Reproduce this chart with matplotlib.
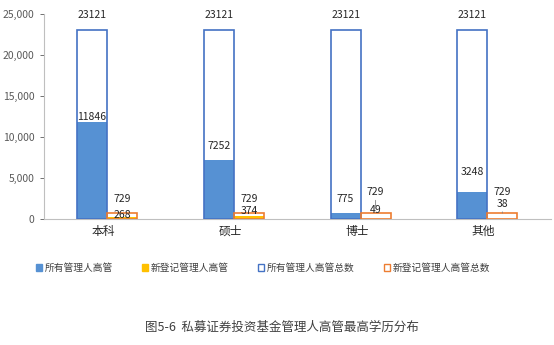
import numpy as np
import matplotlib.pyplot as plt
from matplotlib.patches import Patch

plt.rcParams['font.family'] = ['Noto Sans CJK SC', 'DejaVu Sans']

categories = ['本科', '硕士', '博士', '其他']
all_mgr = [11846, 7252, 775, 3248]
new_mgr = [268, 374, 49, 38]
all_total = [23121, 23121, 23121, 23121]
new_total = [729, 729, 729, 729]

blue = '#5691D3'
blue_edge = '#4472C4'
yellow = '#FFC000'
orange = '#ED7D31'
grey = '#595959'
txt = '#262626'

fig = plt.figure(figsize=(5.54, 3.45), dpi=100)
ax = fig.add_axes([0.079, 0.365, 0.915, 0.594])

x = np.arange(len(categories))
w = 0.237

ax.bar(x - w / 2, all_mgr, w, color=blue, zorder=2)
ax.bar(x - w / 2, all_total, w, facecolor='none', edgecolor=blue_edge, linewidth=1.2, zorder=3)
ax.bar(x + w / 2, new_mgr, w, color=yellow, zorder=2)
ax.bar(x + w / 2, new_total, w, facecolor='none', edgecolor=orange, linewidth=1.2, zorder=3)

fs = 7.5
# label heights (data units) as placed in the original
all_mgr_lab = [12440, 8900, 2440, 5730]
new_total_lab = [2440, 2440, 3290, 3290]
new_mgr_lab = [490, 975, 1100, 1830]

for i in range(len(categories)):
    ax.text(x[i] - w / 2, 24880, str(all_total[i]), ha='center', va='center', fontsize=fs, color=txt)
    ax.text(x[i] - w / 2, all_mgr_lab[i], str(all_mgr[i]), ha='center', va='center', fontsize=fs, color=txt, zorder=4)
    ax.text(x[i] + w / 2, new_total_lab[i], str(new_total[i]), ha='center', va='center', fontsize=fs, color=txt)

for i in range(3):
    ax.text(x[i] + w / 2, new_mgr_lab[i], str(new_mgr[i]), ha='center', va='center', fontsize=fs, color=txt, zorder=4)
# leader lines to the small labels
ax.annotate('', xy=(x[2] + w / 2, new_mgr_lab[2] + 500), xytext=(x[2] + w / 2, new_total_lab[2] - 1000),
            arrowprops=dict(arrowstyle='-', color='#7f7f7f', lw=0.6, shrinkA=0, shrinkB=0), zorder=5)
ax.annotate(str(new_mgr[3]), xy=(x[3] + w / 2, new_total[3]), xytext=(x[3] + w / 2, new_mgr_lab[3]),
            ha='center', va='center', fontsize=fs, color=txt,
            arrowprops=dict(arrowstyle='-', color='#7f7f7f', lw=0.6, shrinkA=0, shrinkB=0), zorder=4)

ax.set_xlim(-0.5, 3.5)
ax.set_ylim(0, 25000)
ax.set_yticks(np.arange(0, 25001, 5000))
ax.set_yticklabels(['{:,}'.format(v) for v in range(0, 25001, 5000)])
ax.set_xticks(x - 0.03)
ax.set_xticklabels(categories)
ax.tick_params(axis='y', labelsize=7.5, colors=grey, length=3, width=0.6, direction='out')
ax.tick_params(axis='x', labelsize=8.5, colors=txt, length=0, pad=4)
for s in ['top', 'right']:
    ax.spines[s].set_visible(False)
for s in ['left', 'bottom']:
    ax.spines[s].set_color('#bfbfbf')
    ax.spines[s].set_linewidth(0.8)

handles = [
    Patch(facecolor=blue, edgecolor=blue),
    Patch(facecolor=yellow, edgecolor=yellow),
    Patch(facecolor='white', edgecolor=blue_edge),
    Patch(facecolor='white', edgecolor=orange),
]
labels = ['所有管理人高管', '新登记管理人高管', '所有管理人高管总数', '新登记管理人高管总数']
fig.legend(handles, labels, loc='center', bbox_to_anchor=(0.475, 1 - 268 / 345), ncol=4, frameon=False,
           fontsize=7, handlelength=0.6, handleheight=0.6, handletextpad=0.3, columnspacing=3.0,
           labelcolor='#404040')

fig.text(0.509, 1 - 327 / 345, '图5-6  私募证券投资基金管理人高管最高学历分布', ha='center', va='center',
         fontsize=9, color='#404040')

fig.savefig('out.png', dpi=100)
